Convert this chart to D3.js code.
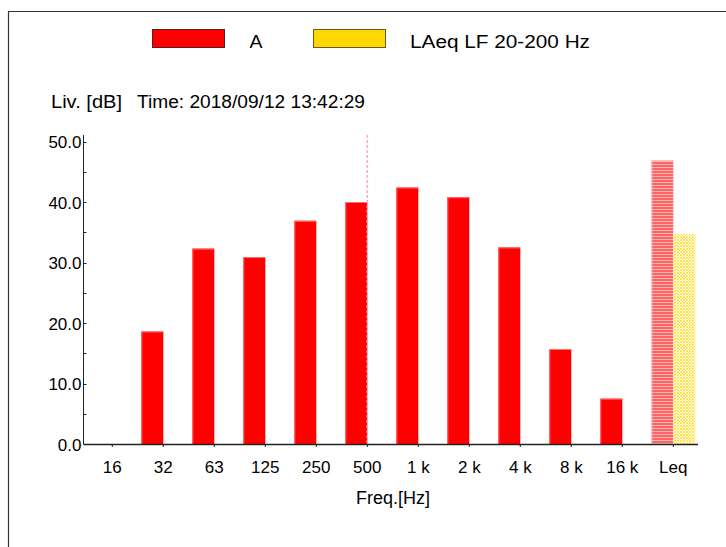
<!DOCTYPE html>
<html>
<head>
<meta charset="utf-8">
<script src="https://cdn.jsdelivr.net/npm/d3@7"></script>
<style>
  html, body { margin: 0; padding: 0; background: #fff; }
  svg { display: block; }
  text { font-family: "Liberation Sans", Arial, sans-serif; fill: #000; }
</style>
</head>
<body>
<script>
const categories = ["16", "32", "63", "125", "250", "500", "1 k", "2 k", "4 k", "8 k", "16 k", "Leq"];
const valuesA  = [null, 18.6, 32.3, 30.9, 36.9, 40.0, 42.4, 40.8, 32.5, 15.7, 7.5, 46.9];
const valuesLF = [null, null, null, null, null, null, null, null, null, null, null, 34.7];
const seriesNames = ["A", "LAeq LF 20-200 Hz"];
const yTicks = [0, 10, 20, 30, 40, 50];
const yMinorTicks = [5, 15, 25, 35, 45];
const cursorCategory = "500";
const titleLeft = "Liv. [dB]";
const titleTime = "Time: 2018/09/12 13:42:29";
const xTitle = "Freq.[Hz]";

const W = 726, H = 547;
const svg = d3.select("body").append("svg").attr("width", W).attr("height", H);
svg.append("rect").attr("width", W).attr("height", H).attr("fill", "#fff");

// patterns
const defs = svg.append("defs");
const pr = defs.append("pattern").attr("id", "stripeRed").attr("patternUnits", "userSpaceOnUse")
  .attr("width", 4).attr("height", 3);
pr.append("rect").attr("width", 4).attr("height", 3).attr("fill", "#ffb4b4");
pr.append("rect").attr("width", 4).attr("height", 2).attr("fill", "#ff6464");
const py = defs.append("pattern").attr("id", "hatchYellow").attr("patternUnits", "userSpaceOnUse")
  .attr("width", 3).attr("height", 3);
py.append("rect").attr("width", 3).attr("height", 3).attr("fill", "#fffef5");
[[0,0],[1,1],[2,2],[2,0],[0,2]].forEach(([px, pyy]) => {
  py.append("rect").attr("x", px).attr("y", pyy).attr("width", 1).attr("height", 1).attr("fill", "#ffe44a");
});

// frame
svg.append("path").attr("d", `M8.5,${H} V11.5 H${W}`).attr("fill", "none")
  .attr("stroke", "#333").attr("stroke-width", 1.2);

// scales
const x = d3.scaleBand().domain(categories).range([86.8, 698.8])
  .paddingInner(7 / 51).paddingOuter(3.5 / 51);
const x1 = d3.scaleBand().domain(["A", "LF"]).range([0, x.bandwidth()]);
const y = d3.scaleLinear().domain([0, 50]).range([444, 141.5]);

// legend
const legend = svg.append("g");
legend.append("rect").attr("x", 152.5).attr("y", 29.5).attr("width", 72).attr("height", 18)
  .attr("fill", "#ff0000").attr("stroke", "#5a2020").attr("stroke-width", 1);
legend.append("text").attr("x", 249.5).attr("y", 48).attr("font-size", 18)
  .attr("textLength", 13).attr("lengthAdjust", "spacingAndGlyphs").text(seriesNames[0]);
legend.append("rect").attr("x", 313.5).attr("y", 29.5).attr("width", 72).attr("height", 18)
  .attr("fill", "#ffd700").attr("stroke", "#6a5a20").attr("stroke-width", 1);
legend.append("text").attr("x", 410).attr("y", 48).attr("font-size", 18)
  .attr("textLength", 180).attr("lengthAdjust", "spacingAndGlyphs").text(seriesNames[1]);

// titles
svg.append("text").attr("x", 51).attr("y", 108).attr("font-size", 18)
  .attr("textLength", 71).attr("lengthAdjust", "spacingAndGlyphs").text(titleLeft);
svg.append("text").attr("x", 137).attr("y", 108).attr("font-size", 18)
  .attr("textLength", 228).attr("lengthAdjust", "spacingAndGlyphs").text(titleTime);

// bars
const groups = svg.append("g");
categories.forEach((c, i) => {
  const x0 = x(c);
  if (valuesA[i] != null) {
    const isLeq = c === "Leq";
    groups.append("rect")
      .attr("x", x0 + x1("A")).attr("y", y(valuesA[i]))
      .attr("width", x1.bandwidth()).attr("height", y(0) - y(valuesA[i]))
      .attr("fill", isLeq ? "url(#stripeRed)" : "#ff0000");
    groups.append("path")
      .attr("d", `M${x0 + x1("A") + 0.5},${y(0)} V${y(valuesA[i]) + 0.5} H${x0 + x1("A") + x1.bandwidth()}`)
      .attr("fill", "none").attr("stroke", isLeq ? "#ffc8c8" : "#ff7070").attr("stroke-width", 1);
  }
  if (valuesLF[i] != null) {
    groups.append("rect")
      .attr("x", x0 + x1("LF")).attr("y", y(valuesLF[i]))
      .attr("width", x1.bandwidth()).attr("height", y(0) - y(valuesLF[i]))
      .attr("fill", "url(#hatchYellow)");
  }
});

// cursor line
const cx = x(cursorCategory) + x.bandwidth() / 2;
svg.append("line").attr("x1", cx).attr("x2", cx).attr("y1", 135).attr("y2", y(0))
  .attr("stroke", "#ffa8c8").attr("stroke-width", 1.6).attr("stroke-dasharray", "3,2");

// y axis
const yAxisX = 83.5;
const yAxis = d3.axisLeft(y).tickValues(yTicks).tickFormat(d3.format(".1f")).tickSize(0).tickPadding(2);
const gy = svg.append("g").attr("transform", `translate(${yAxisX},0)`).call(yAxis);
gy.select(".domain").remove();
gy.selectAll("text").attr("font-size", 17).attr("font-family", "Liberation Sans, Arial, sans-serif")
  .attr("fill", "#000").attr("dy", "0.36em");
svg.append("line").attr("x1", yAxisX).attr("x2", yAxisX).attr("y1", 135).attr("y2", y(0))
  .attr("stroke", "#222").attr("stroke-width", 1);
svg.selectAll(".yminor").data(yMinorTicks.concat(yTicks)).enter().append("line")
  .attr("x1", yAxisX).attr("x2", yAxisX + 3)
  .attr("y1", d => Math.round(y(d)) + 0.5).attr("y2", d => Math.round(y(d)) + 0.5)
  .attr("stroke", "#222").attr("stroke-width", 1);

// x axis
const xAxis = d3.axisBottom(x).tickSize(3).tickPadding(14);
const gx = svg.append("g").attr("transform", `translate(0,${y(0)})`).call(xAxis);
gx.select(".domain").remove();
gx.selectAll(".tick line").attr("stroke", "#222");
gx.selectAll("text").attr("font-size", 17).attr("font-family", "Liberation Sans, Arial, sans-serif")
  .attr("fill", "#000");
svg.append("line").attr("x1", yAxisX).attr("x2", 698).attr("y1", y(0) + 0.5).attr("y2", y(0) + 0.5)
  .attr("stroke", "#222").attr("stroke-width", 1.3);

// x title
svg.append("text").attr("x", 393).attr("y", 504).attr("text-anchor", "middle").attr("font-size", 18)
  .text(xTitle);
</script>
</body>
</html>
